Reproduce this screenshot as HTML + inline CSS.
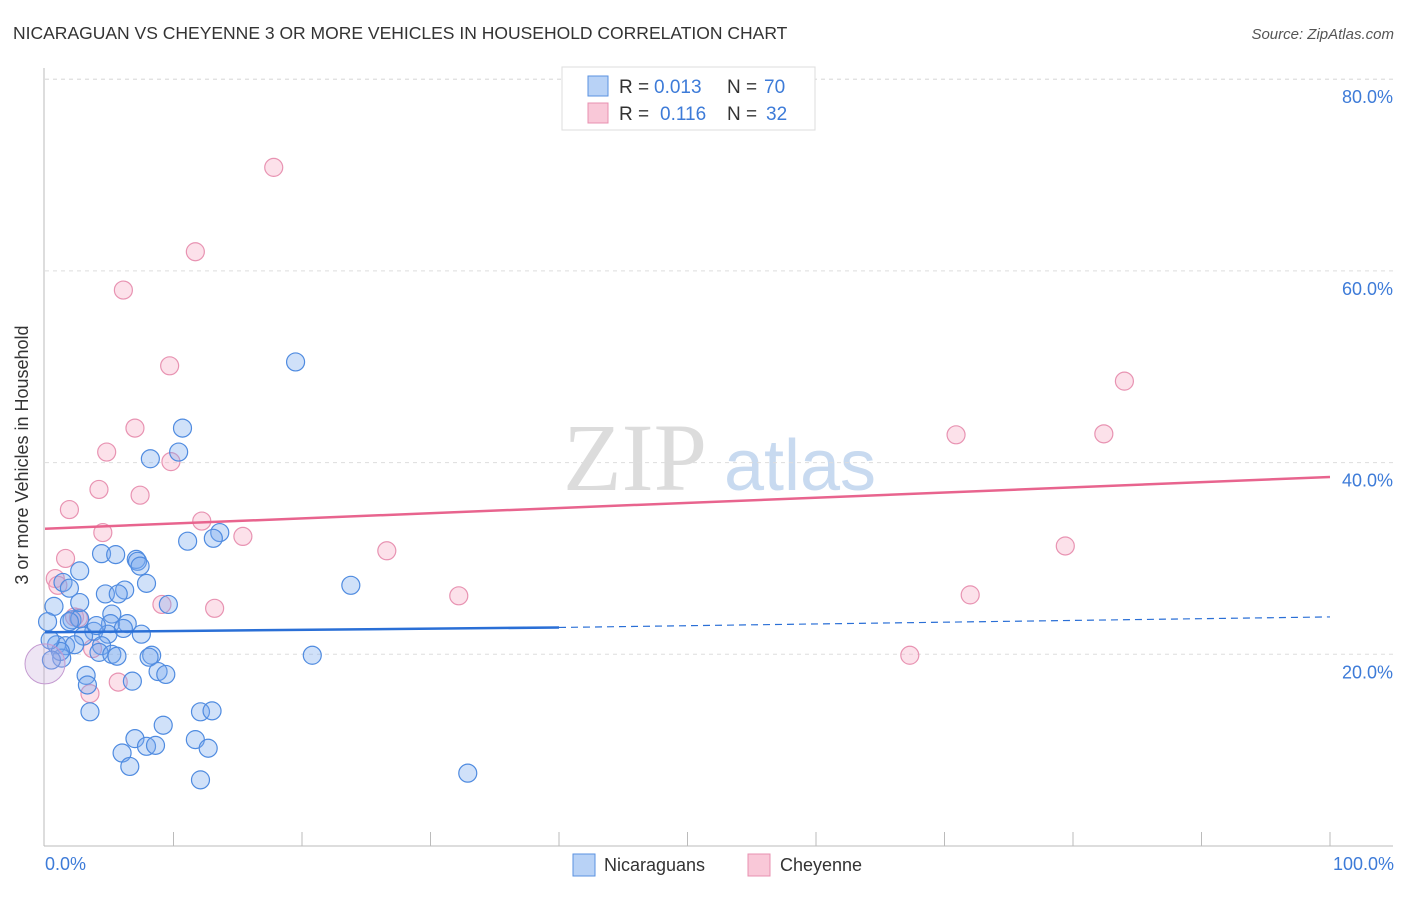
<!DOCTYPE html>
<html><head><meta charset="utf-8"><style>
body{margin:0;background:#fff;font-family:"Liberation Sans",sans-serif;}
</style></head><body>
<svg width="1406" height="892" viewBox="0 0 1406 892" xmlns="http://www.w3.org/2000/svg">
<text x="13" y="39" font-size="17.5" fill="#333">NICARAGUAN VS CHEYENNE 3 OR MORE VEHICLES IN HOUSEHOLD CORRELATION CHART</text>
<text x="1394" y="39" font-size="15" fill="#555" font-style="italic" text-anchor="end">Source: ZipAtlas.com</text>
<g>
<text x="635" y="490" font-size="96" fill="#dcdcdc" font-family="Liberation Serif,serif" text-anchor="middle">ZIP</text>
<text x="800" y="490" font-size="72" fill="#c8daf0" text-anchor="middle">atlas</text>
</g>
<g id="grid"></g>
<g id="axes"></g>
<g id="marks"></g>
<g id="trends"></g>
<text x="28" y="455" font-size="18" fill="#333" text-anchor="middle" transform="rotate(-90 28 455)">3 or more Vehicles in Household</text>
<text x="45" y="870" font-size="18" fill="#3d7bd8">0.0%</text>
<text x="1394" y="870" font-size="18" fill="#3d7bd8" text-anchor="end">100.0%</text>
<g>
<rect x="562" y="67" width="253" height="63" fill="#fff" stroke="#ddd"/>
<rect x="588" y="76" width="20" height="20" fill="#b8d2f6" stroke="#5a92e0"/>
<rect x="588" y="103" width="20" height="20" fill="#f9c8d8" stroke="#e890b0"/>
<text x="619" y="93" font-size="19" fill="#333">R =</text>
<text x="654" y="93" font-size="19" fill="#3d7bd8">0.013</text>
<text x="727" y="93" font-size="19" fill="#333">N =</text>
<text x="764" y="93" font-size="19" fill="#3d7bd8">70</text>
<text x="619" y="120" font-size="19" fill="#333">R =</text>
<text x="660" y="120" font-size="19" fill="#3d7bd8">0.116</text>
<text x="727" y="120" font-size="19" fill="#333">N =</text>
<text x="766" y="120" font-size="19" fill="#3d7bd8">32</text>
</g>
<g>
<rect x="573" y="854" width="22" height="22" fill="#b8d2f6" stroke="#5a92e0"/>
<text x="604" y="871" font-size="18" fill="#333">Nicaraguans</text>
<rect x="748" y="854" width="22" height="22" fill="#f9c8d8" stroke="#e890b0"/>
<text x="780" y="871" font-size="18" fill="#333">Cheyenne</text>
</g>
</svg>
<script>
const yTicks=[20,40,60,80];
const yTickLabels=["20.0%","40.0%","60.0%","80.0%"];
const xTicks=[10,20,30,40,50,60,70,80,90,100];
const nicX=[19.5,10.7,10.4,8.2,13.6,13.1,11.1,4.4,5.5,7.1,7.2,7.4,2.7,7.9,23.8,1.4,1.9,6.2,4.7,5.7,0.7,9.6,5.2,2.1,0.2,2.7,5.1,6.4,3.8,6.1,4.9,3.0,7.5,0.9,1.6,2.3,4.4,4.2,5.2,5.6,1.3,1.2,8.3,8.1,20.8,8.8,9.4,3.2,6.8,3.3,3.5,12.1,13.0,9.2,7.0,11.7,12.7,6.0,7.9,8.6,6.6,12.1,32.9,1.9,0.5,4.0,0.4,2.7];
const nicY=[50.5,43.6,41.1,40.4,32.7,32.1,31.8,30.5,30.4,29.9,29.7,29.2,28.7,27.4,27.2,27.5,26.9,26.7,26.3,26.3,25.0,25.2,24.2,23.6,23.4,23.7,23.2,23.2,22.4,22.7,22.1,21.9,22.1,21.0,20.9,21.0,20.9,20.2,20.0,19.8,19.6,20.3,19.9,19.7,19.9,18.2,17.9,17.8,17.2,16.8,14.0,14.0,14.1,12.6,11.2,11.1,10.2,9.7,10.4,10.5,8.3,6.9,7.6,23.4,19.4,23.0,21.5,25.4];
const cheX=[17.8,11.7,6.1,9.7,84.0,7.0,4.8,9.8,70.9,82.4,4.2,7.4,1.9,12.2,15.4,4.5,1.6,26.6,79.4,0.8,1.0,32.2,72.0,9.1,13.2,2.3,2.6,3.7,67.3,5.7,3.5];
const cheY=[70.8,62.0,58.0,50.1,48.5,43.6,41.1,40.1,42.9,43.0,37.2,36.6,35.1,33.9,32.3,32.7,30.0,30.8,31.3,27.9,27.2,26.1,26.2,25.2,24.8,23.9,23.8,20.6,19.9,17.1,15.9];
const nicTrend=[22.3,22.8,23.9];
const cheTrend=[33.1,38.5];
const NS="http://www.w3.org/2000/svg";
const X=v=>45+v*12.85, Y=v=>846-v*9.585;
function mk(t,a,p){const e=document.createElementNS(NS,t);for(const k in a)e.setAttribute(k,a[k]);p.appendChild(e);return e;}
const grid=document.getElementById('grid'),axes=document.getElementById('axes'),marks=document.getElementById('marks'),trends=document.getElementById('trends');
yTicks.forEach((t,i)=>{
 const l=mk('line',{x1:45,x2:1393,y1:Y(t),y2:Y(t),stroke:'#ddd','stroke-dasharray':'4,4'},grid);
 
 
 const tx=mk('text',{x:1393,y:Y(t)+24,'font-size':18,fill:'#3d7bd8','text-anchor':'end'},axes);
 tx.textContent=yTickLabels[i];
 
 
});
mk('line',{x1:44,x2:44,y1:68,y2:846,stroke:'#bbb'},axes);
mk('line',{x1:44,x2:1393,y1:846,y2:846,stroke:'#bbb'},axes);
xTicks.forEach(t=>{
 const l=mk('line',{x1:X(t),x2:X(t),y1:832,y2:846,stroke:'#bbb'},axes);
 
 
});
function dots(xs,ys,fill,stroke,name){
 xs.forEach((x,i)=>{
  const c=mk('circle',{cx:X(x),cy:Y(ys[i]),r:9,fill:fill,stroke:stroke,'stroke-width':1.2},marks);
  
  
 });
}
dots(cheX,cheY,'rgba(246,170,196,0.35)','#e893b2','cheyenne-point');
dots(nicX,nicY,'rgba(120,168,238,0.35)','#4f8be0','nicaraguan-point');
const big=mk('circle',{cx:X(0),cy:Y(19),r:20,fill:'rgba(200,170,220,0.3)',stroke:'#c49ad0'},marks);


const l1=mk('line',{x1:X(0),y1:Y(nicTrend[0]),x2:X(40),y2:Y(nicTrend[1]),stroke:'#2a6fd6','stroke-width':2.5},trends);


const l2=mk('line',{x1:X(40),y1:Y(nicTrend[1]),x2:X(100),y2:Y(nicTrend[2]),stroke:'#2a6fd6','stroke-width':1.2,'stroke-dasharray':'7,5'},trends);


const l3=mk('line',{x1:X(0),y1:Y(cheTrend[0]),x2:X(100),y2:Y(cheTrend[1]),stroke:'#e8648e','stroke-width':2.5},trends);


const topLine=mk('line',{x1:45,x2:1393,y1:Y(80),y2:Y(80),stroke:'#ddd','stroke-dasharray':'4,4'},grid);


</script>
</body></html>
